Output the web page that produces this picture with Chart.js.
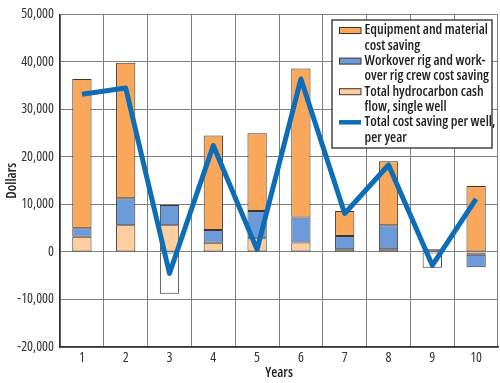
<!DOCTYPE html>
<html>
<head>
<meta charset="utf-8">
<script src="https://cdn.jsdelivr.net/npm/chart.js@4/dist/chart.umd.min.js"></script>
<style>
html,body{margin:0;padding:0;background:#fff;}
#wrap{width:500px;height:383px;position:relative;}
</style>
</head>
<body>
<div id="wrap"><canvas id="c" width="500" height="383"></canvas></div>
<script>
const years = ['1','2','3','4','5','6','7','8','9','10'];
const hydrocarbonCash = [3200, 5600, 5600, 1950, 2900, 2000, 550, 550, 0, -600];
const workoverSaving = [1800, 5700, 4300, 2650, 5700, 5250, 2800, 5050, 0, -2600];
const equipmentSaving = [31400, 28500, 0, 19900, 16400, 31350, 5250, 13500, 550, 13900];
const negativeCash = [0, 0, -8800, 0, 0, 0, 0, 0, -3300, 0];
const totalSaving = [33200, 34500, -4500, 22400, 500, 36400, 8100, 18300, -2800, 11200];
const yMin = -20000, yMax = 50000, yStep = 10000;
const legendLabels = [
  ['Equipment and material', 'cost saving'],
  ['Workover rig and work-', 'over rig crew cost saving'],
  ['Total hydrocarbon cash', 'flow, single well'],
  ['Total cost saving per well,', 'per year']
];

const FAMILY = "'Open Sans', 'Roboto Condensed', sans-serif";
const C_ORANGE = '#f9a75b', C_BLUE = '#6d9ad8', C_PEACH = '#fdcea0', C_LINE = '#0d6db6', C_EDGE = '#3e352c';

const legendPlugin = {
  id: 'boxLegend',
  afterDraw(chart) {
    const ctx = chart.ctx;
    const x0 = 332, y0 = 20, w = 160, h = 128;
    ctx.save();
    ctx.fillStyle = '#fff';
    ctx.fillRect(x0, y0, w, h);
    ctx.strokeStyle = '#444';
    ctx.lineWidth = 1.5;
    ctx.strokeRect(x0, y0, w, h);
    const kinds = [
      {type: 'box', color: C_ORANGE},
      {type: 'box', color: C_BLUE},
      {type: 'box', color: C_PEACH},
      {type: 'line', color: C_LINE}
    ];
    ctx.font = "600 condensed 14px " + FAMILY;
    ctx.textBaseline = 'middle';
    ctx.textAlign = 'left';
    const lh = 15.3;
    let y = 30.5;
    legendLabels.forEach((lines, i) => {
      const k = kinds[i];
      if (k.type === 'box') {
        ctx.fillStyle = k.color;
        ctx.fillRect(339.5, y - 3, 21.5, 6);
        ctx.strokeStyle = C_EDGE;
        ctx.lineWidth = 1;
        ctx.strokeRect(339.5, y - 3, 21.5, 6);
      } else {
        ctx.strokeStyle = k.color;
        ctx.lineWidth = 4.5;
        ctx.beginPath();
        ctx.moveTo(339, y);
        ctx.lineTo(361, y);
        ctx.stroke();
      }
      ctx.fillStyle = '#222';
      lines.forEach((t, j) => ctx.fillText(t, 364.5, y + j * lh));
      y += lh * 2;
    });
    ctx.restore();
  }
};

const barCommon = {type: 'bar', borderColor: C_EDGE, borderWidth: 1, borderSkipped: false, order: 1, stack: 'bars',
  barPercentage: 0.44, categoryPercentage: 1.0};

new Chart(document.getElementById('c'), {
  data: {
    labels: years,
    datasets: [
      Object.assign({label: 'Total hydrocarbon cash flow, single well', data: hydrocarbonCash, backgroundColor: C_PEACH}, barCommon),
      Object.assign({label: 'Workover rig and workover rig crew cost saving', data: workoverSaving, backgroundColor: C_BLUE}, barCommon),
      Object.assign({label: 'Equipment and material cost saving', data: equipmentSaving, backgroundColor: C_ORANGE}, barCommon),
      Object.assign({label: 'Negative', data: negativeCash, backgroundColor: '#ffffff'}, barCommon),
      {type: 'line', label: 'Total cost saving per well, per year', data: totalSaving, borderColor: C_LINE,
       borderWidth: 5, pointRadius: 0, tension: 0, fill: false, order: 0, stack: 'line', borderJoinStyle: 'round'}
    ]
  },
  options: {
    responsive: false,
    animation: false,
    devicePixelRatio: 1,
    layout: {padding: {top: 6, right: 2, left: 0, bottom: 0}},
    plugins: {legend: {display: false}, tooltip: {enabled: false}},
    scales: {
      x: {
        stacked: true,
        grid: {offset: true, color: '#808080', lineWidth: 1, drawTicks: false},
        border: {color: '#333', width: 1.5},
        ticks: {color: '#333', font: {family: FAMILY, size: 14, weight: 'condensed'}, padding: 3},
        title: {display: true, text: 'Years', color: '#222', font: {family: FAMILY, size: 14, weight: '600 condensed'}, padding: {top: 0, bottom: 2}},
        afterFit: s => { s.height = 36; }
      },
      y: {
        stacked: true,
        min: yMin, max: yMax,
        grid: {color: '#808080', lineWidth: 1, drawTicks: false},
        border: {color: '#333', width: 1.5},
        ticks: {stepSize: yStep, color: '#333', font: {family: FAMILY, size: 14, weight: 'condensed'}, padding: 6,
          callback: v => v.toLocaleString('en-US')},
        title: {display: true, text: 'Dollars', color: '#222', font: {family: FAMILY, size: 14, weight: '600 condensed'}, padding: {top: 4, bottom: 0}},
        afterFit: s => { s.width = 60; }
      }
    }
  },
  plugins: [legendPlugin]
});
</script>
</body>
</html>
